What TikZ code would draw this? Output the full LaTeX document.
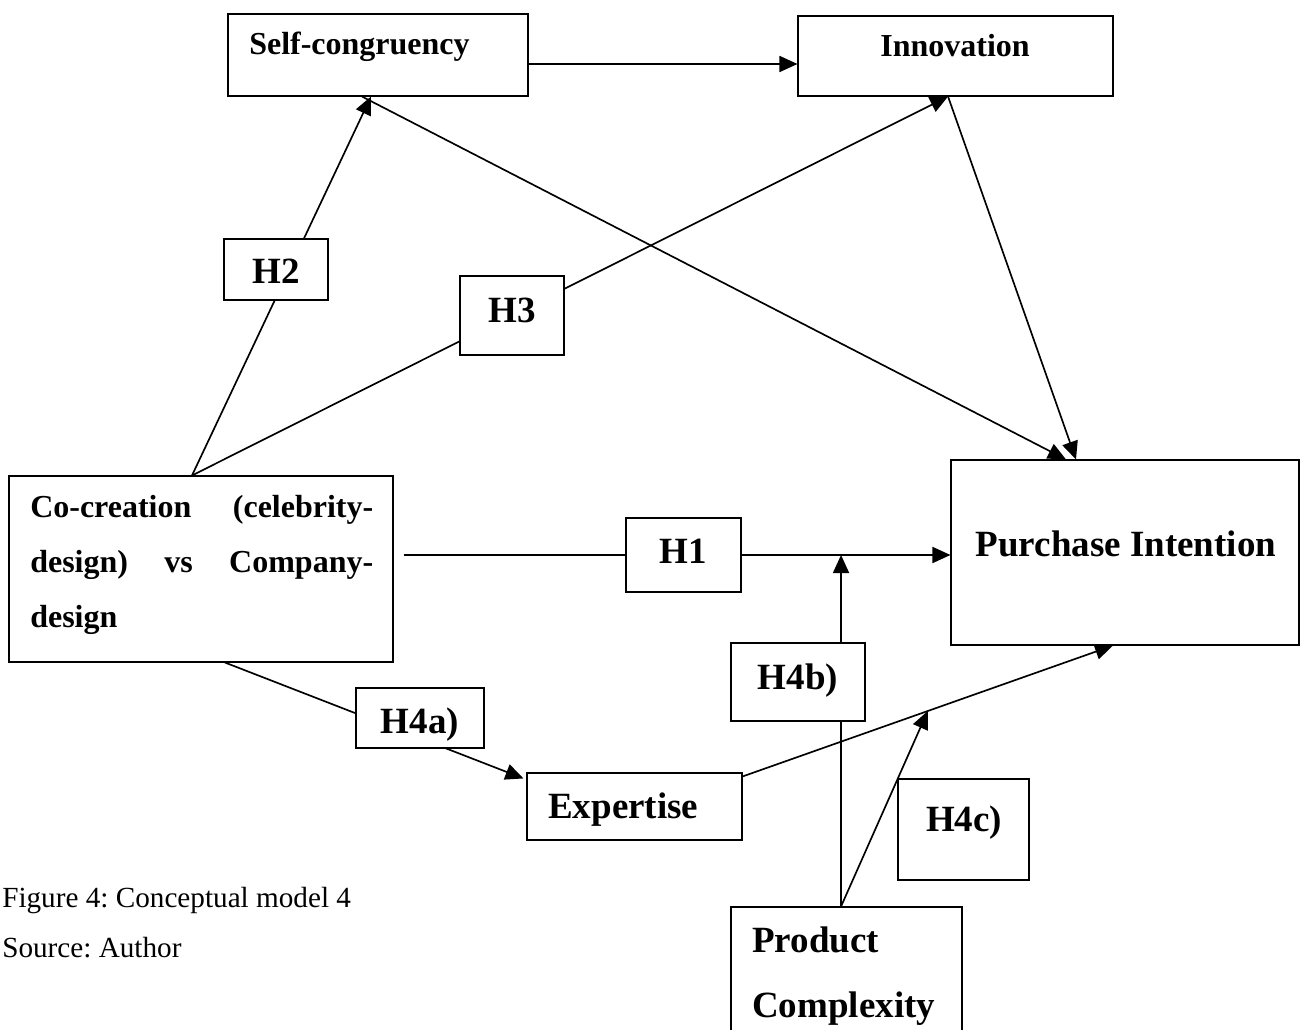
\documentclass[tikz,border=0pt]{standalone}
\usepackage{fontspec}
\setmainfont{Liberation Serif}
\frenchspacing
\usetikzlibrary{arrows.meta,fit,calc,backgrounds}

\tikzset{
  box/.style={draw, line width=0.8pt, fill=white, inner sep=0pt},
  arr/.style={-{Triangle[length=13.5pt,width=12pt]}, line width=1.25pt},
  lbl/.style={font=\fontsize{24}{29}\selectfont\bfseries, inner sep=0pt},
  biglbl/.style={font=\fontsize{27.75}{33}\selectfont\bfseries, inner sep=0pt},
  captxt/.style={font=\fontsize{21.9}{26}\selectfont, inner sep=0pt, anchor=base west},
}

\begin{document}
\begin{tikzpicture}[x=0.75pt,y=-0.75pt]
\useasboundingbox (0,0) rectangle (1301,1030);

% constructs
\node[box, fit={(228,14) (528,96)}] (sc) {};
\node[box, fit={(798,16) (1113,96)}] (inno) {};
\node[box, fit={(951,460) (1299,645)}] (pi) {};
\node[box, fit={(9,476) (393,662)}] (cc) {};
\node[box, fit={(527,773) (742,840)}] (exp) {};
\node[box, fit={(731,907) (962,1045)}] (pc) {};

% hypotheses
\node[box, fit={(626,518) (741,592)}] (h1) {};
\node[box, fit={(224,239) (328,300)}] (h2) {};
\node[box, fit={(460,276) (564,355)}] (h3) {};
\node[box, fit={(356,688) (484,748)}] (h4a) {};
\node[box, fit={(731,643) (865,721)}] (h4b) {};
\node[box, fit={(898,779) (1029,880)}] (h4c) {};

% texts
\node[lbl, anchor=base west] (sct) at (249,55) {Self-congruency};
\node[lbl, anchor=base] (innot) at (955,57) {Innovation};
\node[biglbl, anchor=base] (pit) at (1126,556) {Purchase Intention};
\node[lbl, anchor=base west, text width=257.25pt] (cct1) at (30,517) {Co-creation\hfill(celebrity-};
\node[lbl, anchor=base west, text width=257.25pt] (cct2) at (30,572) {design)\hfill vs\hfill Company-};
\node[lbl, anchor=base west] (cct3) at (30,627) {design};
\node[biglbl, anchor=base west] (expt) at (548,818) {Expertise};
\node[biglbl, anchor=base west] (pct1) at (752,952) {Product};
\node[biglbl, anchor=base west] (pct2) at (752,1017) {Complexity};
\node[biglbl, anchor=base] (h1t) at (683,563) {H1};
\node[biglbl, anchor=base] (h2t) at (276,284) {H2};
\node[biglbl, anchor=base] (h3t) at (512,322) {H3};
\node[biglbl, anchor=base] (h4at) at (420,733) {H4a)};
\node[biglbl, anchor=base] (h4bt) at (798,689) {H4b)};
\node[biglbl, anchor=base] (h4ct) at (964,831) {H4c)};
\node[captxt] (fig) at (2,907) {Figure 4: Conceptual model 4};
\node[captxt] (src) at (2,957) {Source: Author};

% paths
\coordinate (ccn) at ([xshift=-6.75pt]cc.north);
\coordinate (scb) at ([xshift=-5.25pt]sc.south);
\coordinate (innob) at ([xshift=-5.6pt]inno.south);
\coordinate (hs) at ([xshift=7.5pt,yshift=10.5pt]cc.east);
\coordinate (pctop) at ([xshift=-4.1pt]pc.north);
\coordinate (exs) at ([yshift=-3pt]exp.north east);
\coordinate (pib) at ([xshift=-9pt]pi.south);

\begin{pgfonlayer}{background}
\draw[arr] ([yshift=-6.75pt]sc.east) -- ([yshift=-6.75pt]sc.east -| inno.west);
\draw[arr] (ccn) -- (scb);
\draw[arr] (ccn) -- (innob);
\draw[arr] ([xshift=-12pt]sc.south) -- ([xshift=-44.25pt]pi.north);
\draw[arr] (innob) -- ([xshift=-36.75pt]pi.north);
\draw[arr] (hs) -- (hs -| pi.west);
\draw[arr] (pctop) -- (pctop |- hs);
\draw[arr] ([xshift=18pt]cc.south) -- ([xshift=-2.25pt,yshift=-4.5pt]exp.north west);
\draw[arr] (exs) -- (pib);
\draw[arr] (pctop) -- ($(exs)!0.5!(pib)$);
\end{pgfonlayer}
\end{tikzpicture}
\end{document}
